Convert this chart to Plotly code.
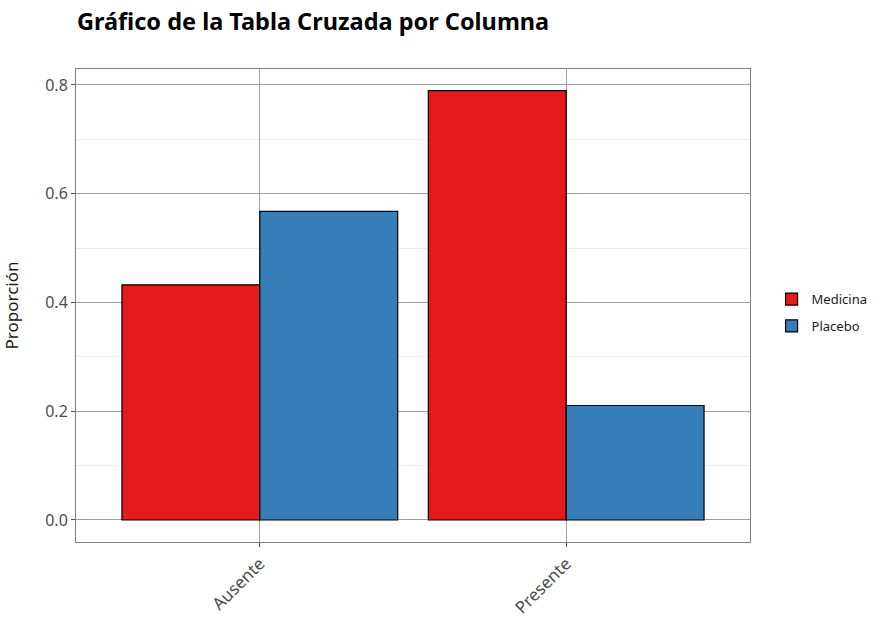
import plotly.graph_objects as go

categories = ["Ausente", "Presente"]
medicina = [0.4324, 0.7895]
placebo = [0.5676, 0.2105]
series_names = ["Medicina", "Placebo"]
colors = ["#E41A1C", "#377EB8"]
y_ticks = [0.0, 0.2, 0.4, 0.6, 0.8]
y_tick_labels = ["0.0", "0.2", "0.4", "0.6", "0.8"]

fig = go.Figure()
for name, vals, col in zip(series_names, [medicina, placebo], colors):
    fig.add_trace(go.Bar(
        x=categories, y=vals, name=name, legendgroup=name,
        marker=dict(color=col, line=dict(color="black", width=1.2)),
    ))

font_family = "Noto Sans"
fig.update_layout(
    width=895, height=617,
    margin=dict(l=76, r=145, t=69, b=75),
    paper_bgcolor="white", plot_bgcolor="white",
    barmode="group", bargap=0.1, bargroupgap=0,
    font=dict(family=font_family, color="#4d4d4d"),
    title=dict(text="<b>Gráfico de la Tabla Cruzada por Columna</b>",
               x=77 / 895, xanchor="left", y=1 - 22 / 617, yanchor="middle",
               font=dict(size=23.5, color="black", family=font_family)),
    legend=dict(x=1.032, y=0.485, xanchor="left", yanchor="middle",
                font=dict(size=13, color="#1a1a1a"), tracegroupgap=7),
    showlegend=True,
)
fig.update_xaxes(
    range=[-0.6, 1.6], showgrid=True, gridcolor="#a0a0a0", gridwidth=1.2,
    showline=True, mirror=True, linecolor="#7f7f7f", linewidth=1,
    ticks="outside", ticklen=4, tickcolor="#555555", tickangle=-45,
    tickfont=dict(size=17, color="#4d4d4d"), zeroline=False, automargin=False,
)
fig.update_yaxes(
    range=[-0.0405, 0.8294], tickvals=y_ticks, ticktext=y_tick_labels,
    showgrid=True, gridcolor="#a0a0a0", gridwidth=1.2,
    minor=dict(showgrid=True, gridcolor="#ededed", gridwidth=1, dtick=0.1, tick0=0),
    showline=True, mirror=True, linecolor="#7f7f7f", linewidth=1,
    ticks="outside", ticklen=4, tickcolor="#555555",
    tickfont=dict(size=16, color="#4d4d4d"), zeroline=False, automargin=False,
    title=dict(text="Proporción", font=dict(size=17, color="#1a1a1a"), standoff=22),
)
fig.write_html("out.html", config={"displayModeBar": False},
               post_script="document.body.style.margin='0';")
